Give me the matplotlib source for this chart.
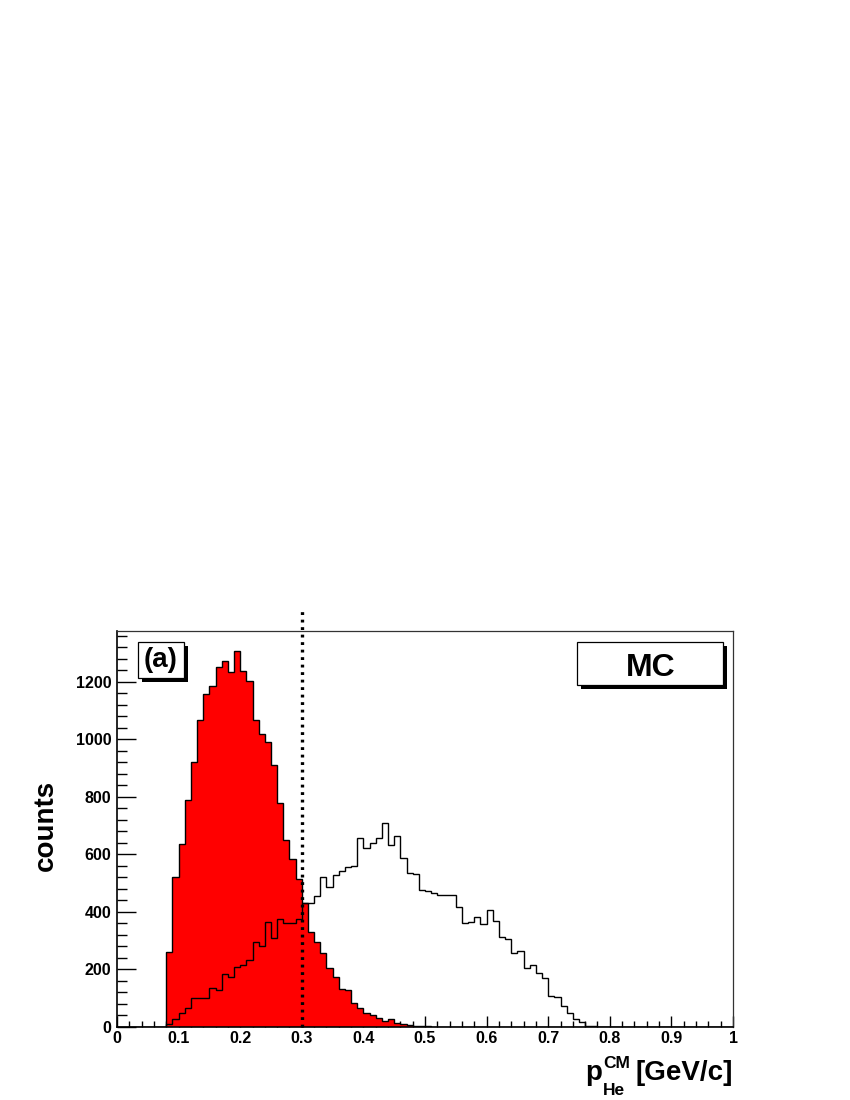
import numpy as np
import matplotlib
matplotlib.use("Agg")
import matplotlib.pyplot as plt
from matplotlib.patches import Rectangle

plt.rcParams['font.family'] = ['Liberation Sans', 'DejaVu Sans']
plt.rcParams['font.weight'] = 'bold'

# ---- data ----
bin_width = 0.01
n_bins = 100
red_start = 0.08
red_counts = [260, 521, 636, 790, 921, 1068, 1158, 1187, 1253, 1274,
              1236, 1309, 1239, 1202, 1068, 1018, 990, 911, 778, 650,
              584, 514, 431, 332, 294, 259, 206, 175, 132, 129,
              85, 67, 48, 42, 30, 22, 27, 13, 9, 6,
              4, 3, 2, 1]
open_start = 0.08
open_counts = [12, 27, 49, 67, 101, 101, 100, 134, 129, 184,
               175, 210, 216, 233, 294, 282, 366, 308, 375, 363,
               361, 376, 431, 432, 457, 523, 486, 528, 541, 555,
               560, 656, 621, 639, 656, 708, 632, 664, 589, 534,
               531, 476, 473, 465, 459, 459, 459, 419, 362, 366,
               384, 358, 407, 370, 312, 305, 256, 265, 204, 216,
               189, 169, 109, 103, 74, 50, 27, 19, 4, 2]
cut_value = 0.3
x_ticks = [0, 0.1, 0.2, 0.3, 0.4, 0.5, 0.6, 0.7, 0.8, 0.9, 1.0]
x_ticklabels = ["0", "0.1", "0.2", "0.3", "0.4", "0.5", "0.6", "0.7", "0.8", "0.9", "1"]
y_ticks = [0, 200, 400, 600, 800, 1000, 1200]

edges = np.linspace(0, 1, n_bins + 1)

def full(start, counts):
    arr = np.zeros(n_bins)
    i0 = int(round(start / bin_width))
    arr[i0:i0 + len(counts)] = counts
    return arr

red = full(red_start, red_counts)
opn = full(open_start, open_counts)

W, H = 850, 1100
fig = plt.figure(figsize=(8.5, 11), dpi=100)
ax = fig.add_axes([117 / W, (H - 1027) / H, (733 - 117) / W, (1027 - 631) / H])

ax.stairs(red, edges, fill=True, color='#ff0000', zorder=2)
ax.stairs(red, edges, color='black', lw=1.0, zorder=3)
ax.stairs(opn, edges, color='black', lw=1.0, zorder=4)
ax.plot([cut_value, cut_value], [0, 1461], color='black', lw=2.4,
        ls=(0, (0.85, 1.4)), clip_on=False, zorder=6, solid_capstyle='butt',
        dash_capstyle='butt')

ax.set_xlim(0, 1)
ax.set_ylim(0, 1377)
ax.set_xticks(x_ticks)
ax.set_xticklabels(x_ticklabels)
ax.set_xticks(np.arange(0, 1.0001, 0.02), minor=True)
ax.set_yticks(y_ticks)
ax.set_yticks(np.arange(0, 1377, 40), minor=True)
ax.tick_params(axis='both', which='both', direction='in', top=False, right=False,
               labelsize=11.5, width=1.0, color='black')
ax.tick_params(axis='x', which='major', length=8, pad=3)
ax.tick_params(axis='x', which='minor', length=4.3)
ax.tick_params(axis='y', which='major', length=13.7, pad=4)
ax.tick_params(axis='y', which='minor', length=7)
for lab in ax.get_xticklabels() + ax.get_yticklabels():
    lab.set_fontweight('bold')
for s in ['top', 'right']:
    ax.spines[s].set_linewidth(0.9)
    ax.spines[s].set_color('#333333')
for s in ['left', 'bottom']:
    ax.spines[s].set_linewidth(1.2)
    ax.spines[s].set_color('black')

# axis titles
fig.text(733 / W, (H - 1080) / H, '[GeV/c]', ha='right', va='baseline',
         fontsize=20, fontweight='bold')
fig.text(602 / W, (H - 1080) / H, 'p', ha='right', va='baseline',
         fontsize=20, fontweight='bold')
fig.text(603 / W, (H - 1068) / H, 'CM', ha='left', va='baseline',
         fontsize=12.5, fontweight='bold')
fig.text(603 / W, (H - 1095) / H, 'He', ha='left', va='baseline',
         fontsize=12.5, fontweight='bold')
fig.text(46 / W, (H - 825) / H, 'counts', rotation=90, ha='center', va='center',
         fontsize=20, fontweight='bold')

def shadow_box(x0, y0, x1, y1, text, fs, ty):
    off = 4
    fig.patches.append(Rectangle(((x0 + off) / W, (H - y1 - off) / H), (x1 - x0) / W,
                                 (y1 - y0) / H, transform=fig.transFigure,
                                 facecolor='black', edgecolor='black', lw=0, zorder=7))
    fig.patches.append(Rectangle((x0 / W, (H - y1) / H), (x1 - x0) / W, (y1 - y0) / H,
                                 transform=fig.transFigure, facecolor='white',
                                 edgecolor='black', lw=0.9, zorder=8))
    fig.text((x0 + x1) / 2 / W, (H - ty) / H, text, ha='center', va='center',
             fontsize=fs, fontweight='bold', zorder=9)

shadow_box(137.7, 642.3, 184.3, 677.7, '(a)', 20, 660)
shadow_box(577.3, 642.3, 723.3, 685.0, 'MC', 23, 668)

fig.savefig('out.png', dpi=100)
